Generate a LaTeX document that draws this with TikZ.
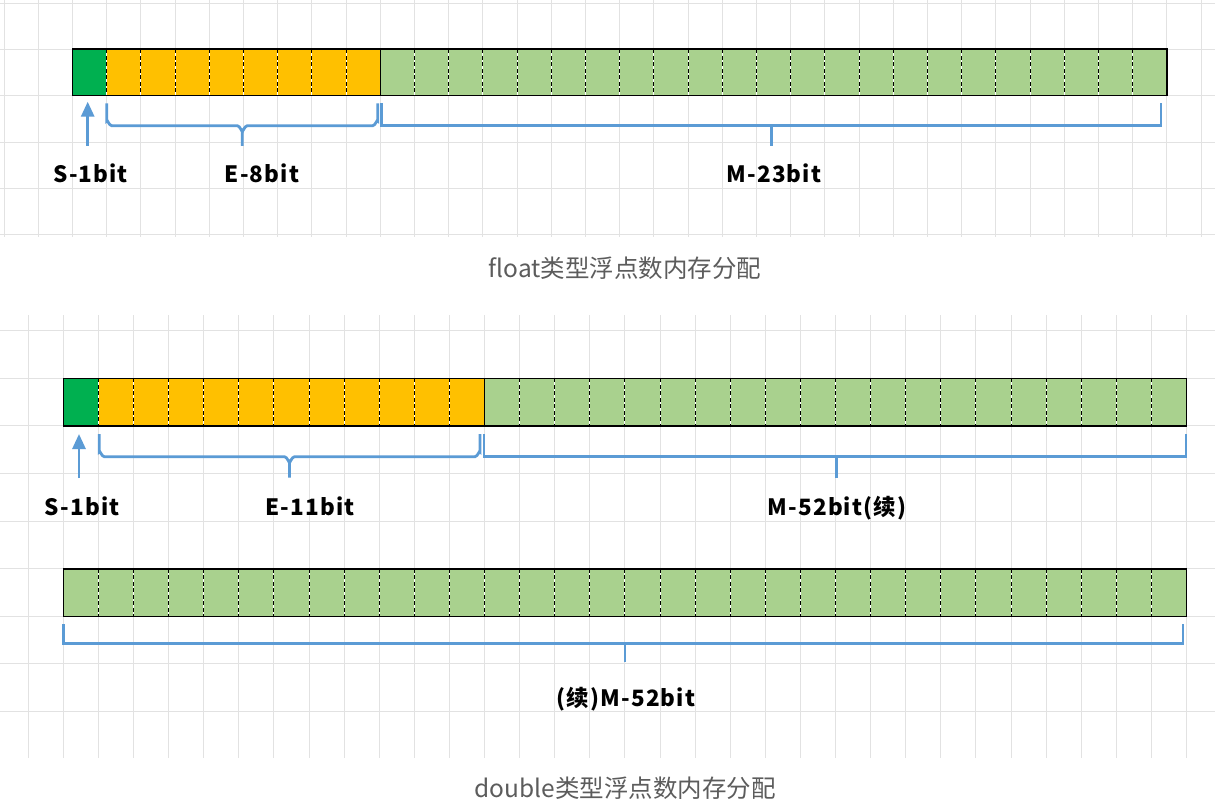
\documentclass[tikz,border=0pt]{standalone}
\usepackage{fontspec}
\newfontfamily\cjk{Noto Sans CJK SC}
\newfontfamily\cjklbl{Noto Sans CJK SC}[LetterSpace=5]
\usetikzlibrary{arrows.meta}
\definecolor{gridc}{HTML}{E2E2E2}
\definecolor{sgreen}{HTML}{00B050}
\definecolor{eorange}{HTML}{FFC000}
\definecolor{mgreen}{HTML}{A9D18E}
\definecolor{bblue}{HTML}{5B9BD5}
\definecolor{capgray}{HTML}{5C5C5C}
\begin{document}
\begin{tikzpicture}[x=1pt,y=-1pt,
  gridline/.style={draw=gridc,line width=1pt},
  barborder/.style={draw=black,line width=1.6pt},
  underlay/.style={draw=white,line width=0.9pt},
  divider/.style={draw=black,line width=0.9pt,dash pattern=on 4pt off 2.5pt},
  solidiv/.style={draw=black,line width=0.9pt},
  bracestyle/.style={draw=bblue,line width=2.8pt},
  arrowstyle/.style={draw=bblue,line width=2.8pt,-{Triangle[length=15pt,width=13pt]}},
  lbl/.style={font=\cjklbl\bfseries\fontsize{22.5}{26}\selectfont,anchor=base,inner sep=0pt},
  captext/.style={font=\cjk\fontsize{24.5}{28}\selectfont,text=capgray,anchor=base,inner sep=0pt}]
\useasboundingbox (0,0) rectangle (1215,810);
\fill[white] (0,0) rectangle (1215,810);
% ---------- grids ----------
\foreach \k in {0,...,35} \draw[gridline] ({4.1+\k*34.2},0) -- ({4.1+\k*34.2},237);
\foreach \k in {0,...,5} \draw[gridline] (0,{3.3+\k*46.3}) -- (1215,{3.3+\k*46.3});
\foreach \k in {0,...,33} \draw[gridline] ({28.2+\k*35.1},315) -- ({28.2+\k*35.1},758);
\foreach \k in {0,...,8} \draw[gridline] (0,{330.6+\k*47.62}) -- (1215,{330.6+\k*47.62});
% ---------- float bar ----------
\fill[sgreen] (72.5,49.3) rectangle (106.7,95.7);
\fill[eorange] (106.7,49.3) rectangle (380.3,95.7);
\fill[mgreen] (380.3,49.3) rectangle (1166.9,95.7);
\foreach \i in {1,...,31} {
  \draw[underlay] ({72.5+\i*34.2},49.3) -- ({72.5+\i*34.2},95.7);
  \draw[divider] ({72.5+\i*34.2},49.3) -- ({72.5+\i*34.2},95.7);
}
\draw[solidiv] (380.3,49.3) -- (380.3,95.7);
\draw[barborder] (72.5,49.3) rectangle (1166.9,95.7);
% ---------- double bar 1 ----------
\fill[sgreen] (63.3,378.3) rectangle (98.4,426);
\fill[eorange] (98.4,378.3) rectangle (484.5,426);
\fill[mgreen] (484.5,378.3) rectangle (1186.5,426);
\foreach \i in {1,...,31} {
  \draw[underlay] ({63.3+\i*35.1},378.3) -- ({63.3+\i*35.1},426);
  \draw[divider] ({63.3+\i*35.1},378.3) -- ({63.3+\i*35.1},426);
}
\draw[solidiv] (484.5,378.3) -- (484.5,426);
\draw[barborder] (63.3,378.3) rectangle (1186.5,426);
% ---------- double bar 2 ----------
\fill[mgreen] (63.3,568.8) rectangle (1186.5,616.4);
\foreach \i in {1,...,31} {
  \draw[underlay] ({63.3+\i*35.1},568.8) -- ({63.3+\i*35.1},616.4);
  \draw[divider] ({63.3+\i*35.1},568.8) -- ({63.3+\i*35.1},616.4);
}
\draw[barborder] (63.3,568.8) rectangle (1186.5,616.4);
% ---------- float braces ----------
\coordinate (fEl) at (106.7,103.5); \coordinate (fEr) at (377.7,103.5); \coordinate (fEm) at (242.3,146);
\draw[bracestyle] (fEl) -- (106.7,120.7) to[out=90,in=180] (111.7,125.7) -- (237.3,125.7) to[out=0,in=-90] (242.3,130.7) -- (fEm);
\draw[bracestyle] (fEr) -- (377.7,120.7) to[out=90,in=0] (372.7,125.7) -- (247.3,125.7) to[out=180,in=-90] (242.3,130.7);
\coordinate (fMl) at (381.5,103.5); \coordinate (fMr) at (1161,103.5); \coordinate (fMm) at (771.7,146.5);
\draw[bracestyle] (fMl) -- (381.5,125.7) -- (1161,125.7) -- (fMr);
\draw[bracestyle] (771.7,125.7) -- (fMm);
\coordinate (fSb) at (87.7,145.7); \coordinate (fSt) at (87.7,101.7);
\draw[arrowstyle] (fSb) -- (fSt);
% ---------- double braces ----------
\coordinate (dEl) at (99.3,434); \coordinate (dEr) at (480,434); \coordinate (dEm) at (289.5,477.7);
\draw[bracestyle] (dEl) -- (99.3,451.7) to[out=90,in=180] (104.3,456.7) -- (284.5,456.7) to[out=0,in=-90] (289.5,461.7) -- (dEm);
\draw[bracestyle] (dEr) -- (480,451.7) to[out=90,in=0] (475,456.7) -- (294.5,456.7) to[out=180,in=-90] (289.5,461.7);
\coordinate (dMl) at (484,434); \coordinate (dMr) at (1186,434); \coordinate (dMm) at (836.5,478);
\draw[bracestyle] (dMl) -- (484,456.7) -- (1186,456.7) -- (dMr);
\draw[bracestyle] (836.5,456.7) -- (dMm);
\coordinate (dSb) at (79,478); \coordinate (dSt) at (79,434);
\draw[arrowstyle] (dSb) -- (dSt);
\coordinate (d2l) at (63.5,624); \coordinate (d2r) at (1183,624); \coordinate (d2m) at (625,662);
\draw[bracestyle] (d2l) -- (63.5,643.5) -- (1183,643.5) -- (d2r);
\draw[bracestyle] (625,643.5) -- (d2m);
% ---------- labels ----------
\node[lbl] (fS) at (90.5,182.7) {S-1bit};
\node[lbl] (fE) at (262,182.7) {E-8bit};
\node[lbl] (fM) at (774,182.7) {M-23bit};
\node[captext] (fcap) at (625,277) {float类型浮点数内存分配};
\node[lbl] (dS) at (82,515.5) {S-1bit};
\node[lbl] (dE) at (310,515.5) {E-11bit};
\node[lbl] (dM) at (837,515.5) {M-52bit(续)};
\node[lbl] (dM2) at (626,706.5) {(续)M-52bit};
\node[captext] (dcap) at (625,797.5) {double类型浮点数内存分配};
\end{tikzpicture}
\end{document}
